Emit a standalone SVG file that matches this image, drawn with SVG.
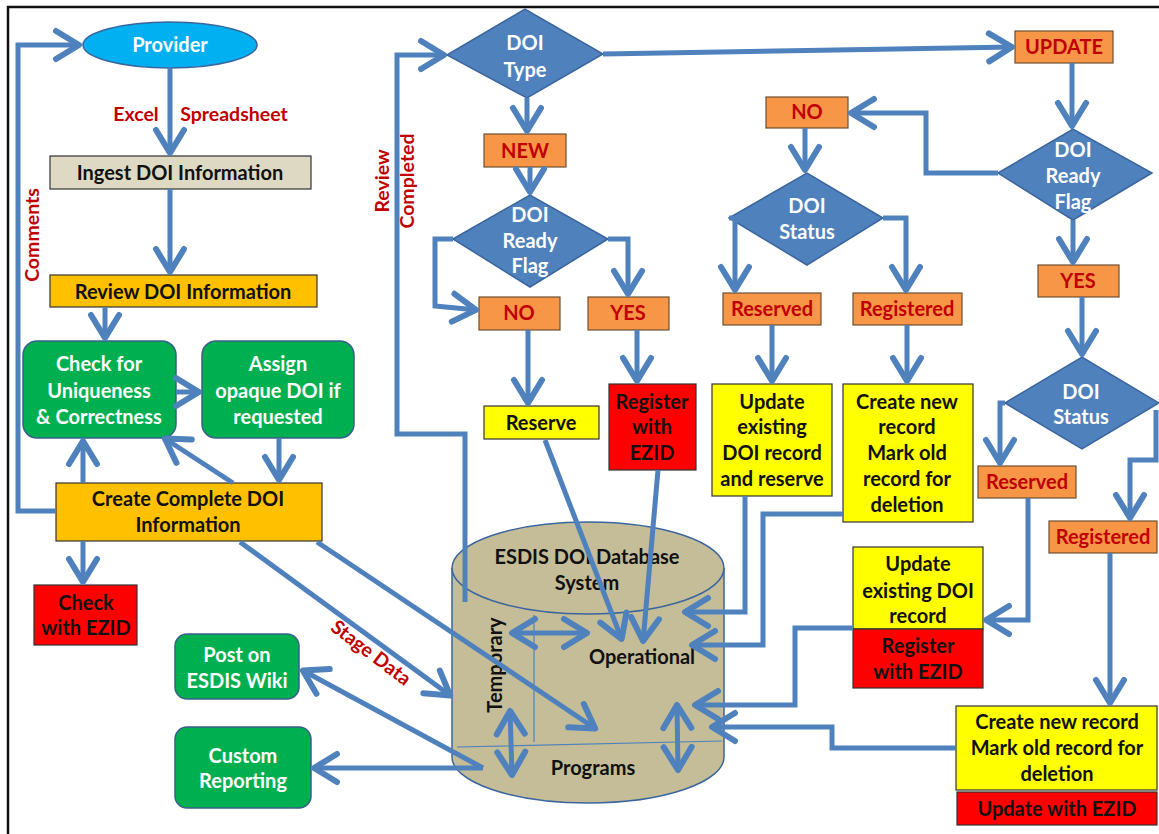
<svg xmlns="http://www.w3.org/2000/svg" width="1159" height="834" viewBox="0 0 1159 834">
<defs>
<style>
.t{font-family:Lato,"Open Sans","Liberation Sans",sans-serif;font-weight:bold;font-size:20px;text-anchor:middle}
.w{fill:#ffffff}.k{fill:#111111}.r{fill:#C00000}
.lb{font-size:19.5px}
.c{fill:none;stroke:#4F81BD;stroke-width:5;stroke-linejoin:miter}
.ar{marker-end:url(#ah)}
.dbl{marker-start:url(#ah);marker-end:url(#ah)}
.or{fill:#F79646;stroke:#6b5030;stroke-width:1.2}
.ye{fill:#FFFF00;stroke:#333;stroke-width:1.2}
.rd{fill:#FF0000;stroke:#333;stroke-width:1.2}
.go{fill:#FFC000;stroke:#333;stroke-width:1.2}
.gr{fill:#00B050;stroke:#3A5F8A;stroke-width:1.5}
.dm{fill:#4F81BD;stroke:#3A659E;stroke-width:1.5}
</style>
<marker id="ah" markerUnits="userSpaceOnUse" markerWidth="40" markerHeight="40" viewBox="-30 -20 40 40" refX="0" refY="0" orient="auto-start-reverse" overflow="visible">
<path d="M-24,-14 L-1,0 L-24,14" fill="none" stroke="#4F81BD" stroke-width="6" stroke-linecap="round" stroke-linejoin="round"/>
</marker>
</defs>
<rect width="1159" height="834" fill="#ffffff"/>
<path d="M8,834 V7 H1159" fill="none" stroke="#111" stroke-width="2.5"/>

<g id="provider"><ellipse cx="170" cy="45" rx="87" ry="23" fill="#00B0F0" stroke="#3A659E" stroke-width="1.5"/><text class="t w" x="170" y="52">Provider</text></g>
<g id="ingest"><rect x="50" y="156" width="261" height="33" fill="#DDD9C3" stroke="#333" stroke-width="1.2"/><text class="t k" x="180" y="180">Ingest DOI Information</text></g>
<g id="review"><rect x="50" y="275" width="267" height="32" class="go"/><text class="t k" x="183" y="299">Review DOI Information</text></g>
<g id="check"><rect x="23" y="341" width="153" height="97" rx="14" class="gr"/><text class="t w" x="99" y="371">Check for<tspan x="99" dy="27">Uniqueness</tspan><tspan x="99" dy="26">&amp; Correctness</tspan></text></g>
<g id="assign"><rect x="202" y="341" width="152" height="97" rx="14" class="gr"/><text class="t w" x="278" y="371">Assign<tspan x="278" dy="27">opaque DOI if</tspan><tspan x="278" dy="26">requested</tspan></text></g>
<g id="create"><rect x="56" y="483" width="266" height="58" class="go"/><text class="t k" x="188" y="506">Create Complete DOI<tspan x="188" dy="26">Information</tspan></text></g>
<g id="checkezid"><rect x="34" y="585" width="103" height="60" class="rd"/><text class="t k" x="86" y="610">Check<tspan x="86" dy="25">with EZID</tspan></text></g>
<g id="post"><rect x="175" y="634" width="124" height="65" rx="12" class="gr"/><text class="t w" x="237" y="662">Post on<tspan x="237" dy="26">ESDIS Wiki</tspan></text></g>
<g id="custom"><rect x="175" y="727" width="136" height="81" rx="12" class="gr"/><text class="t w" x="243" y="763">Custom<tspan x="243" dy="25">Reporting</tspan></text></g>

<g id="db">
<path d="M452,568 V757 A136,46 0 0 0 724,757 V568" fill="#C4BD97" stroke="#3A659E" stroke-width="1.5"/>
<ellipse cx="588" cy="568" rx="136" ry="46" fill="#C4BD97" stroke="#3A659E" stroke-width="1.5"/>
<path d="M534,615 V742 M457,747 L722,741" fill="none" stroke="#4F81BD" stroke-width="1.2"/>
<text class="t k" x="587" y="564">ESDIS DOI Database<tspan x="587" dy="26">System</tspan></text>
<text class="t k" x="642" y="664">Operational</text>
<text class="t k" x="593" y="775">Programs</text>
<text class="t k" transform="translate(502,665) rotate(-90)" x="0" y="0">Temporary</text>
</g>

<g id="doitype"><polygon points="447,55 525,9 603,54 527,98" class="dm"/><text class="t w" x="525" y="50">DOI<tspan x="525" dy="27">Type</tspan></text></g>
<g id="new"><rect x="484" y="134" width="82" height="33" class="or"/><text class="t r" x="525" y="158">NEW</text></g>
<g id="readyL"><polygon points="453,239 530,195 608,239 530,287" class="dm"/><text class="t w" x="530" y="222">DOI<tspan x="530" dy="26">Ready</tspan><tspan x="530" dy="25">Flag</tspan></text></g>
<g id="noL"><rect x="479" y="297" width="81" height="33" class="or"/><text class="t r" x="519" y="320">NO</text></g>
<g id="yesL"><rect x="588" y="297" width="81" height="33" class="or"/><text class="t r" x="628" y="320">YES</text></g>
<g id="reserve"><rect x="484" y="406" width="115" height="33" class="ye"/><text class="t k" x="541" y="430">Reserve</text></g>
<g id="registerL"><rect x="609" y="384" width="87" height="86" class="rd"/><text class="t k" x="652" y="409">Register<tspan x="652" dy="25">with</tspan><tspan x="652" dy="26">EZID</tspan></text></g>

<g id="update"><rect x="1015" y="31" width="98" height="32" class="or"/><text class="t r" x="1064" y="54">UPDATE</text></g>
<g id="readyR"><polygon points="998,173 1073,129 1152,173 1073,220" class="dm"/><text class="t w" x="1073" y="157">DOI<tspan x="1073" dy="26">Ready</tspan><tspan x="1073" dy="26">Flag</tspan></text></g>
<g id="noR"><rect x="766" y="97" width="82" height="31" class="or"/><text class="t r" x="807" y="119">NO</text></g>
<g id="statusM"><polygon points="729,218 807,173 883,218 807,265" class="dm"/><text class="t w" x="807" y="213">DOI<tspan x="807" dy="26">Status</tspan></text></g>
<g id="reservedM"><rect x="723" y="293" width="98" height="32" class="or"/><text class="t r" x="772" y="316">Reserved</text></g>
<g id="registeredM"><rect x="853" y="293" width="109" height="32" class="or"/><text class="t r" x="907" y="316">Registered</text></g>
<g id="updateRes"><rect x="712" y="384" width="120" height="112" class="ye"/><text class="t k" x="772" y="409">Update<tspan x="772" dy="25">existing</tspan><tspan x="772" dy="26">DOI record</tspan><tspan x="772" dy="26">and reserve</tspan></text></g>
<g id="createM"><rect x="843" y="384" width="130" height="138" class="ye"/><text class="t k" x="907" y="409">Create new<tspan x="907" dy="25">record</tspan><tspan x="907" dy="26">Mark old</tspan><tspan x="907" dy="26">record for</tspan><tspan x="907" dy="26">deletion</tspan></text></g>
<g id="yesR"><rect x="1038" y="265" width="81" height="32" class="or"/><text class="t r" x="1078" y="288">YES</text></g>
<g id="statusR"><polygon points="1005,403 1082,357 1159,403 1082,449" class="dm"/><text class="t w" x="1081" y="399">DOI<tspan x="1081" dy="25">Status</tspan></text></g>
<g id="reservedR"><rect x="978" y="466" width="98" height="32" class="or"/><text class="t r" x="1027" y="489">Reserved</text></g>
<g id="registeredR"><rect x="1049" y="521" width="108" height="32" class="or"/><text class="t r" x="1103" y="544">Registered</text></g>
<g id="updateDOI"><rect x="853" y="547" width="130" height="82" class="ye"/><rect x="853" y="629" width="130" height="59" class="rd"/><text class="t k" x="918" y="571">Update<tspan x="918" dy="27">existing DOI</tspan><tspan x="918" dy="25">record</tspan><tspan x="918" dy="30">Register</tspan><tspan x="918" dy="26">with EZID</tspan></text></g>
<g id="createR"><rect x="956" y="706" width="201" height="84" class="ye"/><rect x="957" y="792" width="200" height="33" class="rd"/><text class="t k" x="1057" y="729">Create new record<tspan x="1057" dy="26">Mark old record for</tspan><tspan x="1057" dy="26">deletion</tspan><tspan x="1057" dy="35">Update with EZID</tspan></text></g>

<g id="labels">
<text class="t r lb" x="136" y="121">Excel</text>
<text class="t r lb" x="234" y="121">Spreadsheet</text>
<text class="t r lb" transform="translate(39,235) rotate(-90)" x="0" y="0">Comments</text>
<text class="t r lb" transform="translate(389,181) rotate(-90)" x="0" y="0">Review</text>
<text class="t r lb" transform="translate(414,181) rotate(-90)" x="0" y="0">Completed</text>
<text class="t r lb" transform="translate(367,658) rotate(37)" x="0" y="0">Stage Data</text>
</g>

<g id="connectors">
<path class="c ar" d="M56,511 H18 V45 H80"/>
<path class="c ar" d="M170,68 V154"/>
<path class="c ar" d="M170,189 V273"/>
<path class="c ar" d="M105,307 V339"/>
<path class="c ar" d="M176,392 H200"/>
<path class="c ar" d="M279,438 V481"/>
<path class="c ar" d="M83,483 V440"/>
<path class="c ar" d="M233,483 L164,438"/>
<path class="c ar" d="M83,541 V583"/>
<path class="c ar" d="M240,542 L451,696"/>
<path class="c ar" d="M317,542 L596,729"/>
<path class="c ar" d="M483,768 L302,670"/>
<path class="c ar" d="M483,768 H313"/>
<path class="c ar" d="M465,602 V434 H397 V55 H445"/>
<path class="c ar" d="M527,98 V132"/>
<path class="c ar" d="M603,54 L1013,47"/>
<path class="c ar" d="M530,167 V193"/>
<path class="c ar" d="M453,239 H435 V306 L477,310"/>
<path class="c ar" d="M608,239 H628 V295"/>
<path class="c ar" d="M528,330 V404"/>
<path class="c ar" d="M637,330 V382"/>
<path class="c ar" d="M545,440 L622,640"/>
<path class="c ar" d="M658,470 L643,642"/>
<path class="c ar" d="M1072,63 V127"/>
<path class="c ar" d="M998,173 H926 V113 H850"/>
<path class="c ar" d="M805,128 V171"/>
<path class="c ar" d="M729,218 H735 V291"/>
<path class="c ar" d="M883,218 H906 V291"/>
<path class="c ar" d="M772,325 V382"/>
<path class="c ar" d="M907,325 V382"/>
<path class="c ar" d="M745,496 V612 H684"/>
<path class="c ar" d="M843,514 H763 V645 H691"/>
<path class="c ar" d="M1073,220 V263"/>
<path class="c ar" d="M1082,297 V355"/>
<path class="c ar" d="M1005,403 H1000 V464"/>
<path class="c ar" d="M1156,410 V460 H1130 V519"/>
<path class="c ar" d="M1028,498 V620 H985"/>
<path class="c ar" d="M853,628 H795 V705 H694"/>
<path class="c ar" d="M1110,553 V704"/>
<path class="c ar" d="M956,748 H832 V727 H711"/>
<path class="c dbl" d="M511,633 H588"/>
<path class="c dbl" d="M510,710 L512,776"/>
<path class="c dbl" d="M677,704 L678,771"/>
</g>
</svg>
